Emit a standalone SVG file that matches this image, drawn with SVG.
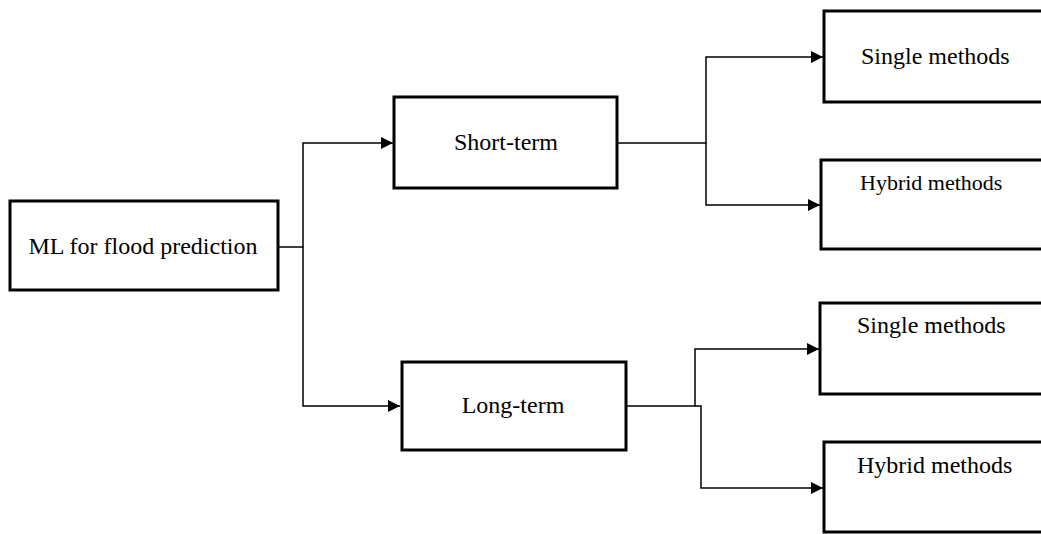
<svg xmlns="http://www.w3.org/2000/svg" width="1041" height="534" viewBox="0 0 1041 534">
<defs>
<style>
.box{fill:#fff;stroke:#000;stroke-width:3}
.lbl{font-family:"Liberation Serif","Times New Roman",serif;font-size:24px;fill:#000}
.con{fill:none;stroke:#000;stroke-width:1.5}
</style>
<marker id="ah" markerUnits="userSpaceOnUse" markerWidth="13" markerHeight="12" refX="12" refY="6" orient="auto">
<path d="M0,0 L12,6 L0,12 Z" fill="#000"/>
</marker>
</defs>
<rect width="1041" height="534" fill="#fff"/>
<g id="connectors">
<path class="con" d="M278,247 H303 V143 H393" marker-end="url(#ah)"/>
<path class="con" d="M303,247 V406 H400" marker-end="url(#ah)"/>
<path class="con" d="M617,143 H706 V57 H823" marker-end="url(#ah)"/>
<path class="con" d="M706,143 V205 H820" marker-end="url(#ah)"/>
<path class="con" d="M626,406 H695 V349 H819" marker-end="url(#ah)"/>
<path class="con" d="M695,406 H701 V488 H823" marker-end="url(#ah)"/>
</g>
<g id="ml">
<rect class="box" x="10" y="201" width="268" height="89"/>
<text class="lbl" x="143" y="254" text-anchor="middle">ML for flood prediction</text>
</g>
<g id="short-term">
<rect class="box" x="394" y="97" width="223" height="91"/>
<text class="lbl" x="506" y="150" text-anchor="middle">Short-term</text>
</g>
<g id="long-term">
<rect class="box" x="402" y="362" width="224" height="88"/>
<text class="lbl" x="513" y="413" text-anchor="middle">Long-term</text>
</g>
<g id="single-short">
<rect class="box" x="824" y="11" width="240" height="91"/>
<text class="lbl" x="861" y="64">Single methods</text>
</g>
<g id="hybrid-short">
<rect class="box" x="821" y="160" width="240" height="89"/>
<text class="lbl" x="860" y="190" style="font-size:22px">Hybrid methods</text>
</g>
<g id="single-long">
<rect class="box" x="820" y="303" width="240" height="91"/>
<text class="lbl" x="857" y="333">Single methods</text>
</g>
<g id="hybrid-long">
<rect class="box" x="824" y="442" width="240" height="90"/>
<text class="lbl" x="857" y="473">Hybrid methods</text>
</g>
</svg>
